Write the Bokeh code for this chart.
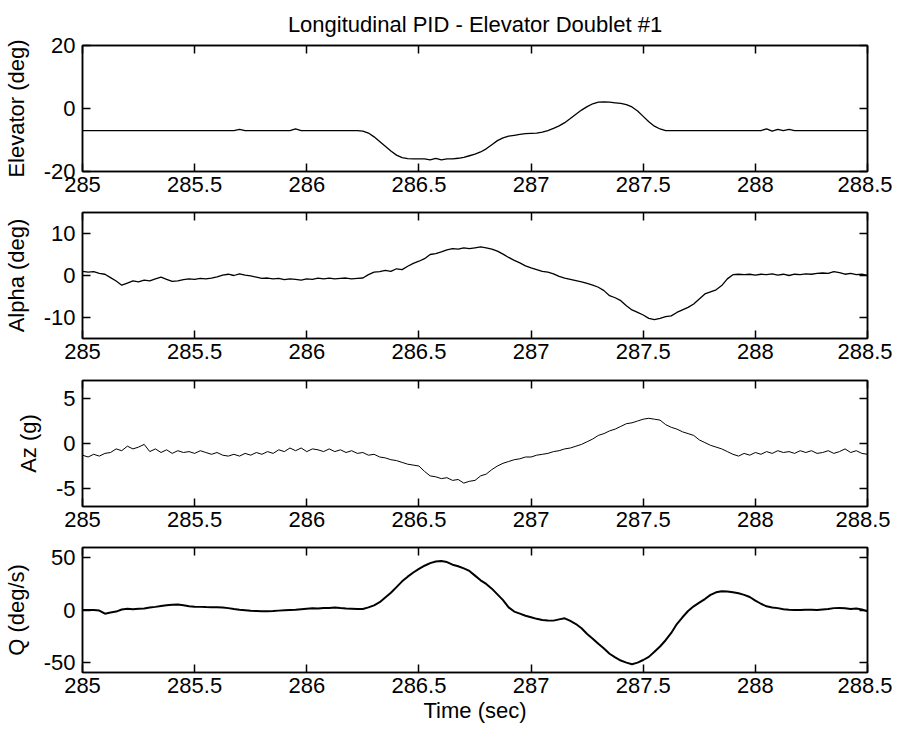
import numpy as np
from bokeh.plotting import figure
from bokeh.layouts import column
from bokeh.models import Range1d, FixedTicker, LinearAxis, NumeralTickFormatter
from bokeh.embed import file_html
from bokeh.resources import INLINE

T_START = 285.0
T_STEP = 0.025
N_SAMPLES = 141
time_s = np.round(T_START + T_STEP * np.arange(N_SAMPLES), 3)

elevator = [
    -7, -7, -7, -7, -7, -7, -7, -7, -7, -7,
    -7, -7, -7, -7, -7, -7, -7, -7, -7, -7,
    -7, -7, -7, -7, -7, -7, -7, -7, -6.6, -7,
    -7, -7, -7, -7, -7, -7, -7, -7, -6.5, -7,
    -7, -7, -7, -7, -7, -7, -7, -7, -7, -7,
    -7.2, -7.8, -9.0, -10.5, -12.0, -13.5, -14.8, -15.6, -15.9, -16.0,
    -16.0, -16.0, -16.3, -15.8, -16.3, -16.0, -16.0, -15.8, -15.5, -15.0,
    -14.5, -13.8, -12.8, -11.5, -10.2, -9.3, -8.8, -8.5, -8.2, -8.0,
    -7.9, -7.8, -7.5, -7.0, -6.3, -5.5, -4.5, -3.2, -1.8, -0.5,
    0.6, 1.5, 2.0, 2.1, 2.0, 1.8, 1.6, 1.2, 0.5, -0.8,
    -2.5, -4.2, -5.6, -6.5, -7.0, -7, -7, -7, -7, -7,
    -7, -7, -7, -7, -7, -7, -7, -7, -7, -7,
    -7, -7, -6.5, -7.2, -6.6, -7.0, -6.6, -7, -7, -7,
    -7, -7, -7, -7, -7, -7, -7, -7, -7, -7,
    -7,
]

alpha = [
    1.0, 0.8, 0.9, 0.5, 0.3, -0.5, -1.3, -2.3, -1.8, -1.3,
    -1.5, -1.1, -1.3, -0.8, -0.4, -0.9, -1.4, -1.3, -1.0, -0.8,
    -0.9, -0.7, -0.8, -0.6, -0.3, 0.1, 0.3, 0.0, 0.4, 0.1,
    -0.1, -0.4, -0.7, -0.6, -0.8, -0.7, -1.0, -0.8, -0.9, -1.1,
    -0.8, -0.9, -0.6, -0.8, -0.6, -0.8, -0.7, -0.6, -0.8, -0.7,
    -0.6, 0.2, 0.8, 0.9, 1.2, 1.0, 1.6, 1.4, 2.2, 2.9,
    3.4, 4.0, 5.0, 5.2, 5.6, 6.1, 6.4, 6.3, 6.6, 6.4,
    6.6, 6.8, 6.6, 6.3, 5.8, 5.1, 4.3, 3.6, 3.0, 2.3,
    1.8, 1.4, 1.0, 0.8, 0.4, -0.2, -0.6, -0.9, -1.2, -1.5,
    -1.9, -2.3, -2.8, -3.6, -4.8, -5.3, -6.0, -7.2, -8.2, -8.8,
    -9.4, -10.2, -10.5, -10.2, -9.8, -9.6, -8.8, -8.2, -7.6, -6.8,
    -5.6, -4.4, -3.9, -3.4, -2.4, -0.8, 0.2, 0.3, 0.2, 0.3,
    0.1, 0.3, 0.2, 0.4, 0.1, 0.3, 0.0, 0.3, 0.2, 0.4,
    0.3, 0.5, 0.6, 0.5, 0.9, 0.7, 0.3, 0.5, 0.2, 0.3,
    0.0,
]

az = [
    -1.3, -1.5, -1.2, -1.4, -1.1, -1.0, -0.6, -0.8, -0.3, -0.6,
    -0.4, -0.1, -0.9, -0.6, -1.0, -0.7, -1.1, -0.8, -1.0, -0.9,
    -1.1, -0.8, -1.0, -1.2, -1.0, -1.3, -1.4, -1.2, -1.4, -1.1,
    -1.3, -1.0, -1.2, -0.9, -1.1, -0.7, -0.9, -0.5, -0.8, -0.5,
    -0.9, -0.6, -0.7, -0.9, -0.6, -0.9, -0.7, -1.0, -0.8, -1.1,
    -1.0, -1.3, -1.2, -1.5, -1.6, -1.8, -1.9, -2.1, -2.3, -2.4,
    -2.5, -3.1, -3.6, -3.7, -3.9, -3.8, -4.1, -4.0, -4.4, -4.2,
    -4.1, -3.6, -3.4, -2.9, -2.5, -2.2, -2.0, -1.8, -1.7, -1.5,
    -1.5, -1.3, -1.2, -1.1, -0.9, -0.8, -0.6, -0.5, -0.3, -0.1,
    0.2, 0.5, 0.9, 1.1, 1.4, 1.6, 1.9, 2.2, 2.3, 2.5,
    2.7, 2.8, 2.7, 2.6, 2.1, 1.8, 1.6, 1.3, 1.1, 0.9,
    0.4, 0.1, -0.2, -0.4, -0.6, -0.9, -1.2, -1.4, -1.1, -1.3,
    -1.0, -1.2, -0.9, -1.1, -0.8, -1.0, -0.9, -1.1, -0.8, -1.0,
    -0.8, -1.1, -1.0, -0.8, -1.1, -0.9, -0.6, -1.0, -0.8, -1.1,
    -1.2,
]

q_rate = [
    0, 0, 0, -0.5, -3.5, -2.5, -1.5, 0.5, 1.3, 0.8,
    1.3, 1.5, 2.3, 3.0, 3.8, 4.5, 5.0, 5.2, 4.5, 3.6,
    3.1, 3.0, 2.8, 2.7, 2.6, 2.5, 1.8, 1.0, 0.3, -0.2,
    -0.8, -1.0, -1.3, -1.2, -1.0, -0.6, -0.3, 0.0, 0.2, 0.8,
    1.2, 1.6, 1.5, 2.0, 1.9, 2.4, 1.9, 1.5, 1.2, 0.9,
    1.0, 2.5, 4.5, 7.5, 12.0, 16.5, 22.0, 27.5, 32.0, 36.0,
    39.5, 42.5, 45.0, 46.5, 47.0, 46.0, 43.5, 42.0, 40.0, 37.5,
    33.0, 28.5, 25.0, 20.5, 15.0, 9.5, 2.5, -1.5, -3.5, -5.5,
    -7.0, -8.5, -9.5, -10.0, -10.2, -9.0, -8.0, -10.5, -13.5, -17.5,
    -23.0, -27.5, -32.5, -37.0, -42.0, -45.5, -48.5, -50.5, -52.0, -50.5,
    -48.0, -45.0, -40.0, -35.0, -29.0, -22.0, -13.5, -7.0, -1.0, 3.5,
    7.0, 10.5, 14.5, 17.0, 18.0, 17.8, 17.0, 16.0, 14.5, 12.5,
    9.0, 6.0, 3.5, 2.5, 1.8, 0.8, 0.2, 0.0, 0.0, 0.2,
    0.3, 0.0, 0.5, 1.0, 1.8, 2.0, 1.7, 1.0, 1.4, 0.5,
    -1.3,
]

x_ticks = [285, 285.5, 286, 286.5, 287, 287.5, 288, 288.5]
x_limits = (285, 288.5)

panels = [
    # label, series, y limits, y ticks, line width
    ("Elevator (deg)", elevator, (-20, 20), [-20, 0, 20], 1.3),
    ("Alpha (deg)", alpha, (-15, 15), [-10, 0, 10], 1.3),
    ("Az (g)", az, (-7, 7), [-5, 0, 5], 1.0),
    ("Q (deg/s)", q_rate, (-60, 60), [-50, 0, 50], 2.0),
]

title_text = "Longitudinal PID - Elevator Doublet #1"
xlabel_text = "Time (sec)"

FONT = "Liberation Sans"
FS = "22px"

# layout (top border, frame height, bottom border) per panel
borders = [(42, 126, 33), (8, 126, 33), (9, 126, 33), (8, 125, 63)]

figs = []
for k, (label, series, ylim, yticks, lw) in enumerate(panels):
    top, fh, bot = borders[k]
    p = figure(frame_width=785, frame_height=fh,
               x_range=Range1d(*x_limits), y_range=Range1d(*ylim),
               output_backend="svg", toolbar_location=None,
               min_border_left=80, min_border_right=25,
               min_border_top=top, min_border_bottom=bot,
               background_fill_color="white", border_fill_color="white")
    p.grid.visible = False
    p.outline_line_color = "black"
    p.outline_line_width = 1.5

    # bottom & left axes with labels
    xa = p.xaxis[0]
    xa.ticker = FixedTicker(ticks=x_ticks)
    xa.formatter = NumeralTickFormatter(format="0.[0]")
    ya = p.yaxis[0]
    ya.ticker = FixedTicker(ticks=yticks)
    ya.formatter = NumeralTickFormatter(format="0")
    for ax in (xa, ya):
        ax.major_tick_in = 8
        ax.major_tick_out = 0
        ax.minor_tick_line_color = None
        ax.axis_line_color = "black"
        ax.axis_line_width = 1.5
        ax.major_tick_line_color = "black"
        ax.major_tick_line_width = 1.5
        ax.major_label_text_font = FONT
        ax.major_label_text_font_size = FS
        ax.major_label_text_color = "black"
        ax.axis_label_text_font = FONT
        ax.axis_label_text_font_size = FS
        ax.axis_label_text_font_style = "normal"
        ax.axis_label_text_color = "black"
    xa.major_label_standoff = 5
    ya.major_label_standoff = 7
    ya.axis_label = label
    ya.axis_label_standoff = 12

    # top & right axes: ticks only (closed box as in the reference)
    for loc, tick in (("above", x_ticks), ("right", yticks)):
        ax = LinearAxis(ticker=FixedTicker(ticks=tick),
                        major_tick_in=8, major_tick_out=0,
                        minor_tick_line_color=None,
                        major_label_text_font_size="1px",
                        major_label_text_color=None,
                        major_label_standoff=0,
                        axis_line_color="black", axis_line_width=1.5,
                        major_tick_line_color="black", major_tick_line_width=1.5)
        p.add_layout(ax, loc)

    p.line(time_s, series, line_color="black", line_width=lw)

    if k == 0:
        p.title.text = title_text
        p.title.align = "center"
        p.title.text_font = FONT
        p.title.text_font_size = FS
        p.title.text_font_style = "normal"
        p.title.text_color = "black"
        p.title.standoff = 18
    if k == len(panels) - 1:
        xa.axis_label = xlabel_text
        xa.axis_label_standoff = 2

    figs.append(p)

layout = column(*figs, spacing=0)
open("out.html", "w").write(file_html(layout, INLINE))
